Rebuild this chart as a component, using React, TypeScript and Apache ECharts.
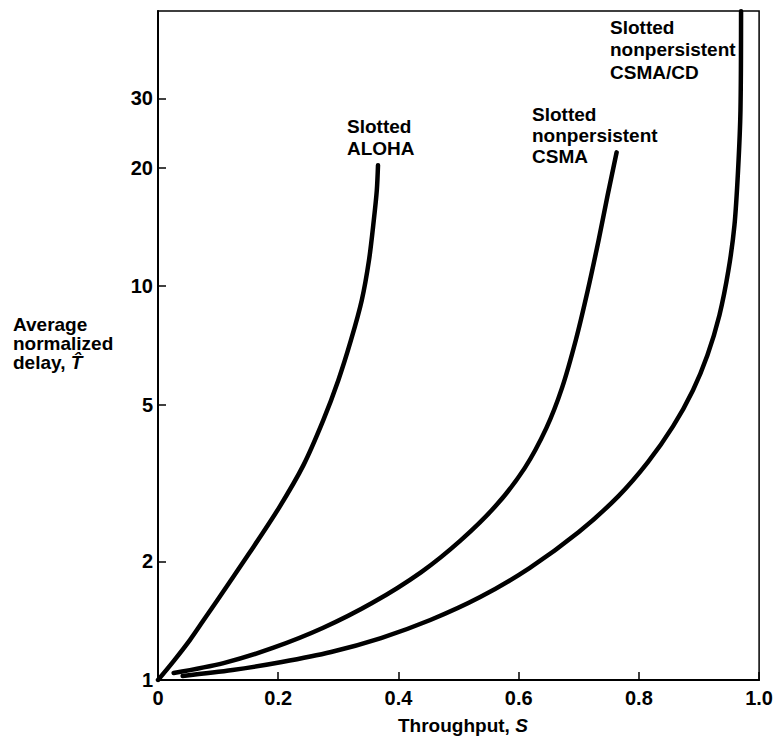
import React, { useEffect, useRef } from "react";
import * as echarts from "echarts";

const alohaS = [0, 0.026, 0.053, 0.076, 0.099, 0.152, 0.201, 0.242, 0.275, 0.3, 0.321, 0.339, 0.351, 0.359, 0.364, 0.366];
const alohaT = [1.0, 1.117, 1.263, 1.42, 1.596, 2.101, 2.733, 3.513, 4.57, 5.772, 7.292, 9.215, 11.64, 14.71, 17.52, 20.28];

const csmaS = [0.026, 0.109, 0.191, 0.274, 0.356, 0.438, 0.504, 0.563, 0.61, 0.646, 0.672, 0.695, 0.715, 0.733, 0.748, 0.763];
const csmaT = [1.042, 1.104, 1.206, 1.355, 1.568, 1.88, 2.266, 2.781, 3.452, 4.361, 5.51, 7.292, 9.768, 13.09, 17.02, 21.88];

const cdS = [0.041, 0.124, 0.206, 0.288, 0.371, 0.453, 0.536, 0.618, 0.7, 0.766, 0.815, 0.857, 0.89, 0.914, 0.934, 0.949, 0.959, 0.965, 0.969, 0.97];
const cdT = [1.024, 1.06, 1.111, 1.178, 1.278, 1.42, 1.624, 1.924, 2.375, 2.931, 3.575, 4.412, 5.446, 6.681, 8.443, 10.98, 14.28, 19.7, 27.97, 49.9];

const yTicks = [1, 2, 5, 10, 20, 30];
const xTicks = [0, 0.2, 0.4, 0.6, 0.8, 1.0];

const labelAloha = "Slotted\nALOHA";
const labelCsma = "Slotted\nnonpersistent\nCSMA";
const labelCd = "Slotted\nnonpersistent\nCSMA/CD";
const yTitle = "Average\nnormalized\ndelay, {it|T\u0302}";
const xTitle = "Throughput, {it|S}";

const FONT = '"Liberation Sans", Arial, sans-serif';

const pair = (xs: number[], ys: number[]) => xs.map((x, i) => [x, ys[i]]);

export default function App() {
  const ref = useRef<HTMLDivElement>(null);
  useEffect(() => {
    if (!ref.current) return;
    const chart = echarts.init(ref.current, null, { renderer: "svg" });
    const lineSeries = (name: string, data: number[][]) => ({
      name,
      type: "line",
      data,
      showSymbol: false,
      smooth: 0.3,
      lineStyle: { color: "#000", width: 4.5, cap: "round", join: "round" },
      z: 3,
    });
    const txt = (x: number, y: number, text: string, lh: number, size = 19) => ({
      type: "text",
      x,
      y,
      style: {
        text,
        fill: "#000",
        fontFamily: FONT,
        fontWeight: "bold",
        fontSize: size,
        lineHeight: lh,
        verticalAlign: "top",
        align: "left",
        rich: {
          it: { fontStyle: "italic", fontFamily: FONT, fontWeight: "bold", fontSize: size, lineHeight: lh },
        },
      },
    });
    chart.setOption({
      animation: false,
      backgroundColor: "#fff",
      grid: {
        left: 158,
        top: 11,
        width: 607,
        height: 669,
        show: true,
        borderColor: "#000",
        borderWidth: 1.5,
        backgroundColor: "transparent",
      },
      xAxis: {
        type: "value",
        min: 0,
        max: 1,
        interval: 0.2,
        axisLine: { show: true, lineStyle: { color: "#000", width: 2 } },
        axisTick: { show: true, inside: true, length: 8, lineStyle: { color: "#000", width: 1.5 }, customValues: xTicks },
        splitLine: { show: false },
        axisLabel: {
          customValues: xTicks,
          color: "#000",
          fontFamily: FONT,
          fontWeight: "bold",
          fontSize: 20,
          margin: 8,
          formatter: (v: number) => (v === 0 ? "0" : v.toFixed(1)),
        },
      },
      yAxis: {
        type: "log",
        logBase: 10,
        min: 1,
        max: 50,
        axisLine: { show: true, lineStyle: { color: "#000", width: 2 } },
        axisTick: { show: true, inside: true, length: 8, lineStyle: { color: "#000", width: 1.5 }, customValues: yTicks },
        splitLine: { show: false },
        minorTick: { show: false },
        axisLabel: {
          customValues: yTicks,
          color: "#000",
          fontFamily: FONT,
          fontWeight: "bold",
          fontSize: 20,
          margin: 5,
          formatter: (v: number) => String(Math.round(v)),
        },
      },
      series: [
        lineSeries("Slotted ALOHA", pair(alohaS, alohaT)),
        lineSeries("Slotted nonpersistent CSMA", pair(csmaS, csmaT)),
        lineSeries("Slotted nonpersistent CSMA/CD", pair(cdS, cdT)),
      ],
      graphic: [
        txt(347, 115, labelAloha, 22),
        txt(532, 104, labelCsma, 21),
        txt(610, 16, labelCd, 22.5),
        txt(13, 315, yTitle, 19),
        txt(398, 714, xTitle, 22),
      ],
    });
    return () => chart.dispose();
  }, []);
  return <div ref={ref} style={{ position: "fixed", left: 0, top: 0, width: 776, height: 739, background: "#fff" }} />;
}
